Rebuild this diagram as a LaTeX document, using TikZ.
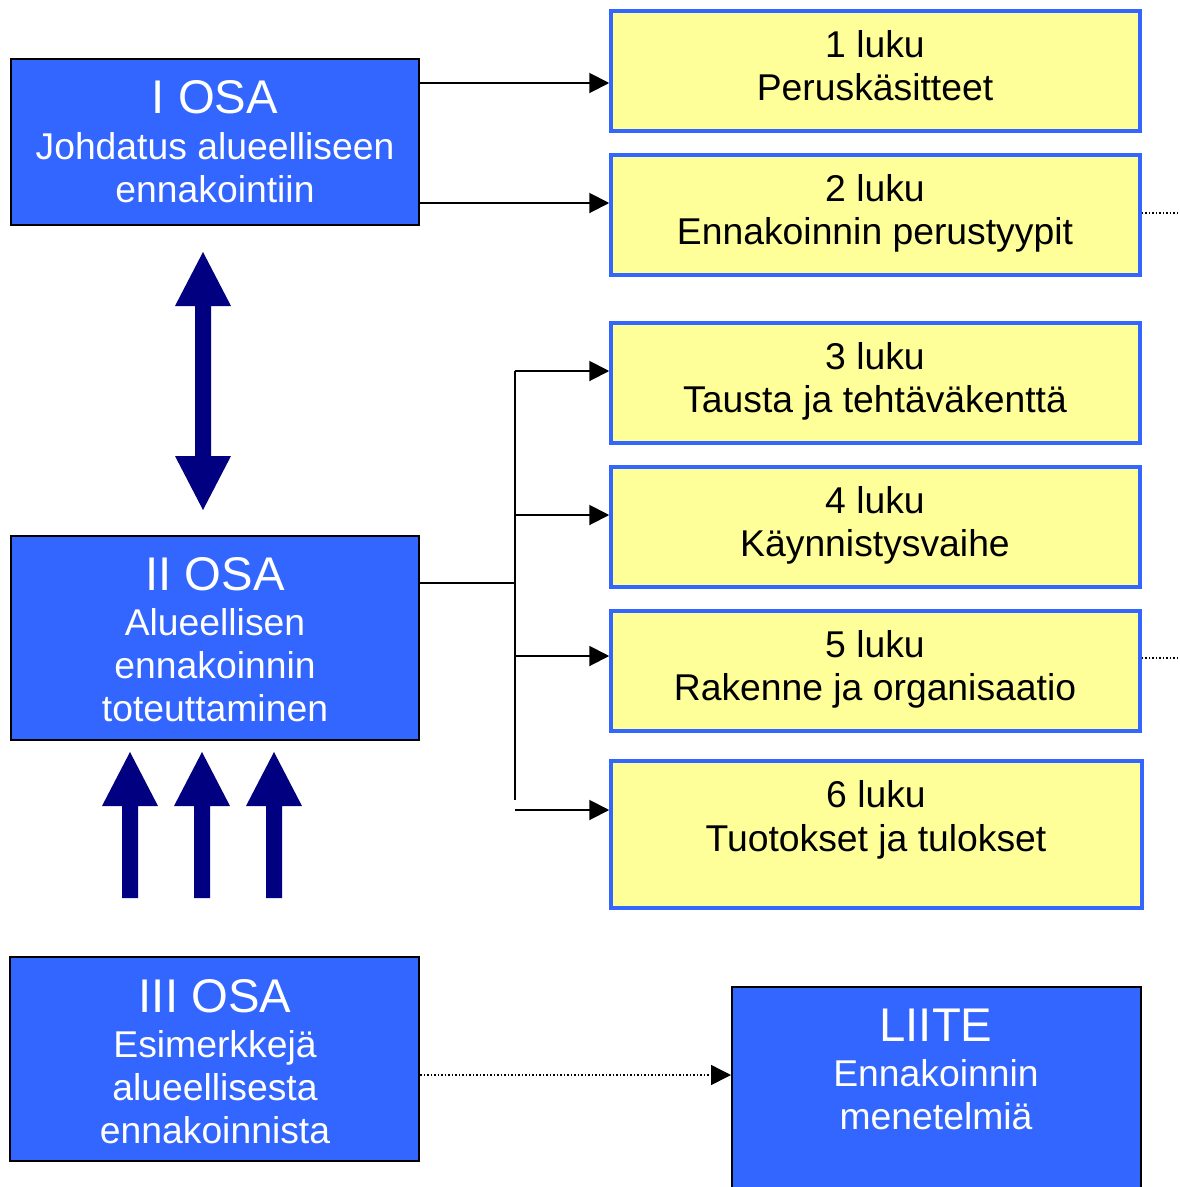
\documentclass[tikz,border=0pt]{standalone}
\usepackage{fontspec}
\setmainfont{Liberation Sans}
\usetikzlibrary{arrows.meta}
\definecolor{osablue}{HTML}{3366FF}
\definecolor{lukuyellow}{HTML}{FFFF99}
\definecolor{bignavy}{HTML}{000080}
\begin{document}
\begin{tikzpicture}[x=1pt,y=-1pt,
  osabox/.style={draw=black,line width=2pt,fill=osablue,rectangle,inner sep=0pt},
  lukubox/.style={draw=osablue,line width=3.5pt,fill=lukuyellow,rectangle,inner sep=0pt,minimum width=529pt,minimum height=120pt},
  btitle/.style={anchor=base,text=white,inner sep=0pt,font=\fontsize{47.3}{50}\selectfont},
  btext/.style={anchor=base,text=white,inner sep=0pt,font=\fontsize{37.3}{43}\selectfont},
  ytext/.style={anchor=base,text=black,inner sep=0pt,font=\fontsize{37.3}{43}\selectfont},
  conn/.style={draw=black,line width=2pt,-{Triangle[length=20pt,width=20pt]}},
  plain/.style={draw=black,line width=2pt},
  dotline/.style={draw=black,line width=1.5pt,dotted},
  bigarrow/.style={fill=bignavy,draw=none}
]
\useasboundingbox (0,0) rectangle (1180,1187);
\clip (0,0) rectangle (1180,1187);
\fill[white] (0,0) rectangle (1180,1187);

% parts
\node[osabox,minimum width=408pt,minimum height=166pt] (osa1) at (215,142) {};
\node[osabox,minimum width=408pt,minimum height=204pt] (osa2) at (215,638) {};
\node[osabox,minimum width=409pt,minimum height=204pt] (osa3) at (214.5,1059) {};
\node[osabox,minimum width=409pt,minimum height=213pt] (liite) at (936.5,1093.5) {};

% chapters
\node[lukubox] (l1) at (875.5,71) {};
\node[lukubox] (l2) at (875.5,215) {};
\node[lukubox] (l3) at (875.5,383) {};
\node[lukubox] (l4) at (875.5,527) {};
\node[lukubox] (l5) at (875.5,671) {};
\node[lukubox,minimum width=531pt,minimum height=147pt] (l6) at (876.5,834.5) {};

% part texts
\node[btitle] (osa1a) at (215,113) {I OSA};
\node[btext] (osa1b) at (215,159) {Johdatus alueelliseen};
\node[btext] (osa1c) at (215,202) {ennakointiin};

\node[btitle] (osa2a) at (215,590) {II OSA};
\node[btext] (osa2b) at (215,635) {Alueellisen};
\node[btext] (osa2c) at (215,678) {ennakoinnin};
\node[btext] (osa2d) at (215,721) {toteuttaminen};

\node[btitle] (osa3a) at (215,1012) {III OSA};
\node[btext] (osa3b) at (215,1057) {Esimerkkejä};
\node[btext] (osa3c) at (215,1100) {alueellisesta};
\node[btext] (osa3d) at (215,1143) {ennakoinnista};

\node[btitle] (liitea) at (936,1041) {LIITE};
\node[btext] (liiteb) at (936,1086) {Ennakoinnin};
\node[btext] (liitec) at (936,1129) {menetelmiä};

% chapter texts
\node[ytext] (l1a) at (875,57) {1 luku};
\node[ytext] (l1b) at (875,100) {Peruskäsitteet};
\node[ytext] (l2a) at (875,201) {2 luku};
\node[ytext] (l2b) at (875,244) {Ennakoinnin perustyypit};
\node[ytext] (l3a) at (875,369) {3 luku};
\node[ytext] (l3b) at (875,412) {Tausta ja tehtäväkenttä};
\node[ytext] (l4a) at (875,513) {4 luku};
\node[ytext] (l4b) at (875,556) {Käynnistysvaihe};
\node[ytext] (l5a) at (875,657) {5 luku};
\node[ytext] (l5b) at (875,700) {Rakenne ja organisaatio};
\node[ytext] (l6a) at (876,807) {6 luku};
\node[ytext] (l6b) at (876,851) {Tuotokset ja tulokset};

% connector levels
\coordinate (y1) at (0,83);
\coordinate (y2) at (0,203);
\coordinate (yb) at (515,583);
\coordinate (ytop) at (515,371);
\coordinate (y4) at (515,515);
\coordinate (y5) at (515,656);
\coordinate (ybot) at (515,800);
\coordinate (y6) at (515,810);
\coordinate (y7) at (0,1075);
\coordinate (e2) at (1180,213);
\coordinate (e5) at (1180,658);

% part I to chapters 1-2
\draw[conn] (osa1.east |- y1) -- (l1.west |- y1);
\draw[conn] (osa1.east |- y2) -- (l2.west |- y2);

% part II to chapters 3-6
\draw[plain] (osa2.east |- yb) -- (yb);
\draw[plain] (ytop) -- (ybot);
\draw[conn] (ytop) -- (l3.west |- ytop);
\draw[conn] (y4) -- (l4.west |- y4);
\draw[conn] (y5) -- (l5.west |- y5);
\draw[conn] (y6) -- (l6.west |- y6);

% part III to appendix
\draw[dotline,-{Triangle[length=20pt,width=20pt]}] (osa3.east |- y7) -- (liite.west |- y7);

% dotted leads on the right
\draw[dotline] (l2.east |- e2) -- (e2);
\draw[dotline] (l5.east |- e5) -- (e5);

% double arrow between parts I and II
\fill[bigarrow] (203,252) -- (231,306) -- (211,306) -- (211,456) -- (231,456) -- (203,510)
  -- (175,456) -- (195,456) -- (195,306) -- (175,306) -- cycle;

% three arrows into part II
\foreach \cx in {130,202,274}{
  \fill[bigarrow] (\cx,752) -- (\cx+28,806) -- (\cx+8,806) -- (\cx+8,898) -- (\cx-8,898)
    -- (\cx-8,806) -- (\cx-28,806) -- cycle;
}
\end{tikzpicture}
\end{document}
